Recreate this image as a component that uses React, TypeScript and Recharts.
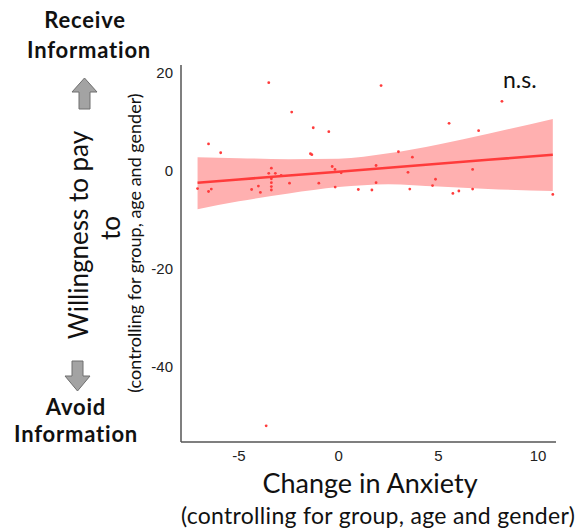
import React from "react";
import {
  ComposedChart,
  Area,
  Line,
  Scatter,
  XAxis,
  YAxis,
} from "recharts";

// residual points (change in anxiety vs willingness to pay)
const pointX = [
  -3.5, 2.13, 8.19, -2.35, 5.54, -1.27, -0.49, 7.02, -6.52, -5.91, -1.41, -1.34,
  3.0, 3.7, -3.37, -3.5, -3.17, -2.88, -0.32, -0.18, 0.13, 1.88, 3.48, 6.72,
  -3.37, -3.37, -3.37, -3.37, -2.46, -4.02, -4.36, -3.92, -7.07, -6.52, -6.38,
  -0.99, -0.17, 0.99, 1.67, 1.88, 3.57, 4.71, 4.86, 5.73, 6.03, 6.72, 10.74, -3.63,
];
const pointY = [
  18.0, 17.4, 14.2, 12.0, 9.7, 8.8, 8.0, 8.2, 5.5, 3.7, 3.5, 3.3,
  3.9, 2.8, 0.55, -0.5, -0.5, -0.9, 0.9, 0.3, -0.4, 1.1, -0.3, 0.3,
  -1.6, -2.4, -3.2, -3.9, -2.5, -3.1, -3.8, -4.4, -3.6, -4.2, -3.7,
  -2.5, -3.3, -3.8, -3.9, -2.4, -3.7, -3.0, -1.7, -4.6, -4.1, -3.7, -4.8, -52.0,
];

// fitted line and confidence band
const fitX = [-7.07, -5, -2.5, 0, 2.5, 5, 7.5, 10.74];
const fitY = [-2.4, -1.75, -0.95, -0.15, 0.65, 1.45, 2.25, 3.3];
const bandLow = [-7.8, -6.2, -4.6, -3.3, -2.7, -3.2, -3.7, -4.1];
const bandHigh = [2.8, 2.6, 2.4, 2.5, 3.6, 5.4, 7.6, 10.6];

const xTicks = [-5, 0, 5, 10];
const yTicks = [-40, -20, 0, 20];

const points = pointX.map((x, i) => ({ x, y: pointY[i] }));
const fit = fitX.map((x, i) => ({ x, y: fitY[i], band: [bandLow[i], bandHigh[i]] }));

const RED = "#ff3b3b";
const labelFont = "Lato, 'Open Sans', sans-serif";
const tickStyle = { fontSize: 15, fill: "#222", fontFamily: "'Liberation Sans', Arial, sans-serif" };

function Dot(props: any) {
  return <circle cx={props.cx} cy={props.cy} r={1.4} fill={RED} />;
}

export default function App() {
  return (
    <div style={{ position: "absolute", left: 0, top: 0, width: 580, height: 531, background: "#fff" }}>
      <ComposedChart
        width={580}
        height={531}
        data={fit}
        margin={{ top: 65, right: 24, bottom: 59, left: 141 }}
      >
        <XAxis
          dataKey="x"
          type="number"
          domain={[-7.9, 10.9]}
          ticks={xTicks}
          allowDataOverflow
          tickLine={false}
          axisLine={{ stroke: "#555", strokeWidth: 1.5 }}
          tick={tickStyle}
          height={30}
        />
        <YAxis
          dataKey="y"
          type="number"
          domain={[-55.3, 21.6]}
          ticks={yTicks}
          allowDataOverflow
          tickLine={false}
          axisLine={{ stroke: "#555", strokeWidth: 1.5 }}
          tick={tickStyle}
          width={40}
        />
        <Area
          dataKey="band"
          type="monotone"
          stroke="none"
          fill="#ffb0b0"
          fillOpacity={1}
          isAnimationActive={false}
        />
        <Line
          dataKey="y"
          type="linear"
          stroke={RED}
          strokeWidth={2.5}
          dot={false}
          isAnimationActive={false}
        />
        <Scatter data={points} shape={Dot} isAnimationActive={false} />
      </ComposedChart>
      <svg
        width={580}
        height={531}
        style={{ position: "absolute", left: 0, top: 0, pointerEvents: "none" }}
        fontFamily={labelFont}
        fill="#111"
      >
        <text x={85} y={28} textAnchor="middle" fontSize={22} fontWeight="bold" letterSpacing={0.8}>Receive</text>
        <text x={89} y={58} textAnchor="middle" fontSize={22} fontWeight="bold" letterSpacing={0.8}>Information</text>
        <text x={76} y={415} textAnchor="middle" fontSize={22} fontWeight="bold" letterSpacing={0.8}>Avoid</text>
        <text x={76} y={442} textAnchor="middle" fontSize={22} fontWeight="bold" letterSpacing={0.8}>Information</text>

        <polygon
          points="84.5,78 97,92 90,92 90,109 79,109 79,92 72,92"
          fill="#a3a3a3"
          stroke="#6f6f6f"
          strokeWidth={1}
        />
        <polygon
          points="72,361 83,361 83,376 90,376 77.5,391 65,376 72,376"
          fill="#a3a3a3"
          stroke="#6f6f6f"
          strokeWidth={1}
        />

        <text x={88} y={235} transform="rotate(-90 88 235)" textAnchor="middle" fontSize={26}>
          Willingness to pay
        </text>
        <text x={120} y={228} transform="rotate(-90 120 228)" textAnchor="middle" fontSize={26}>
          to
        </text>
        <text x={141} y={243} transform="rotate(-90 141 243)" textAnchor="middle" fontSize={18}>
          (controlling for group, age and gender)
        </text>

        <text x={503} y={88} fontSize={23}>n.s.</text>

        <text x={370} y={493} textAnchor="middle" fontSize={27}>Change in Anxiety</text>
        <text x={378} y={524} textAnchor="middle" fontSize={23} letterSpacing={0.3}>(controlling for group, age and gender)</text>
      </svg>
    </div>
  );
}
